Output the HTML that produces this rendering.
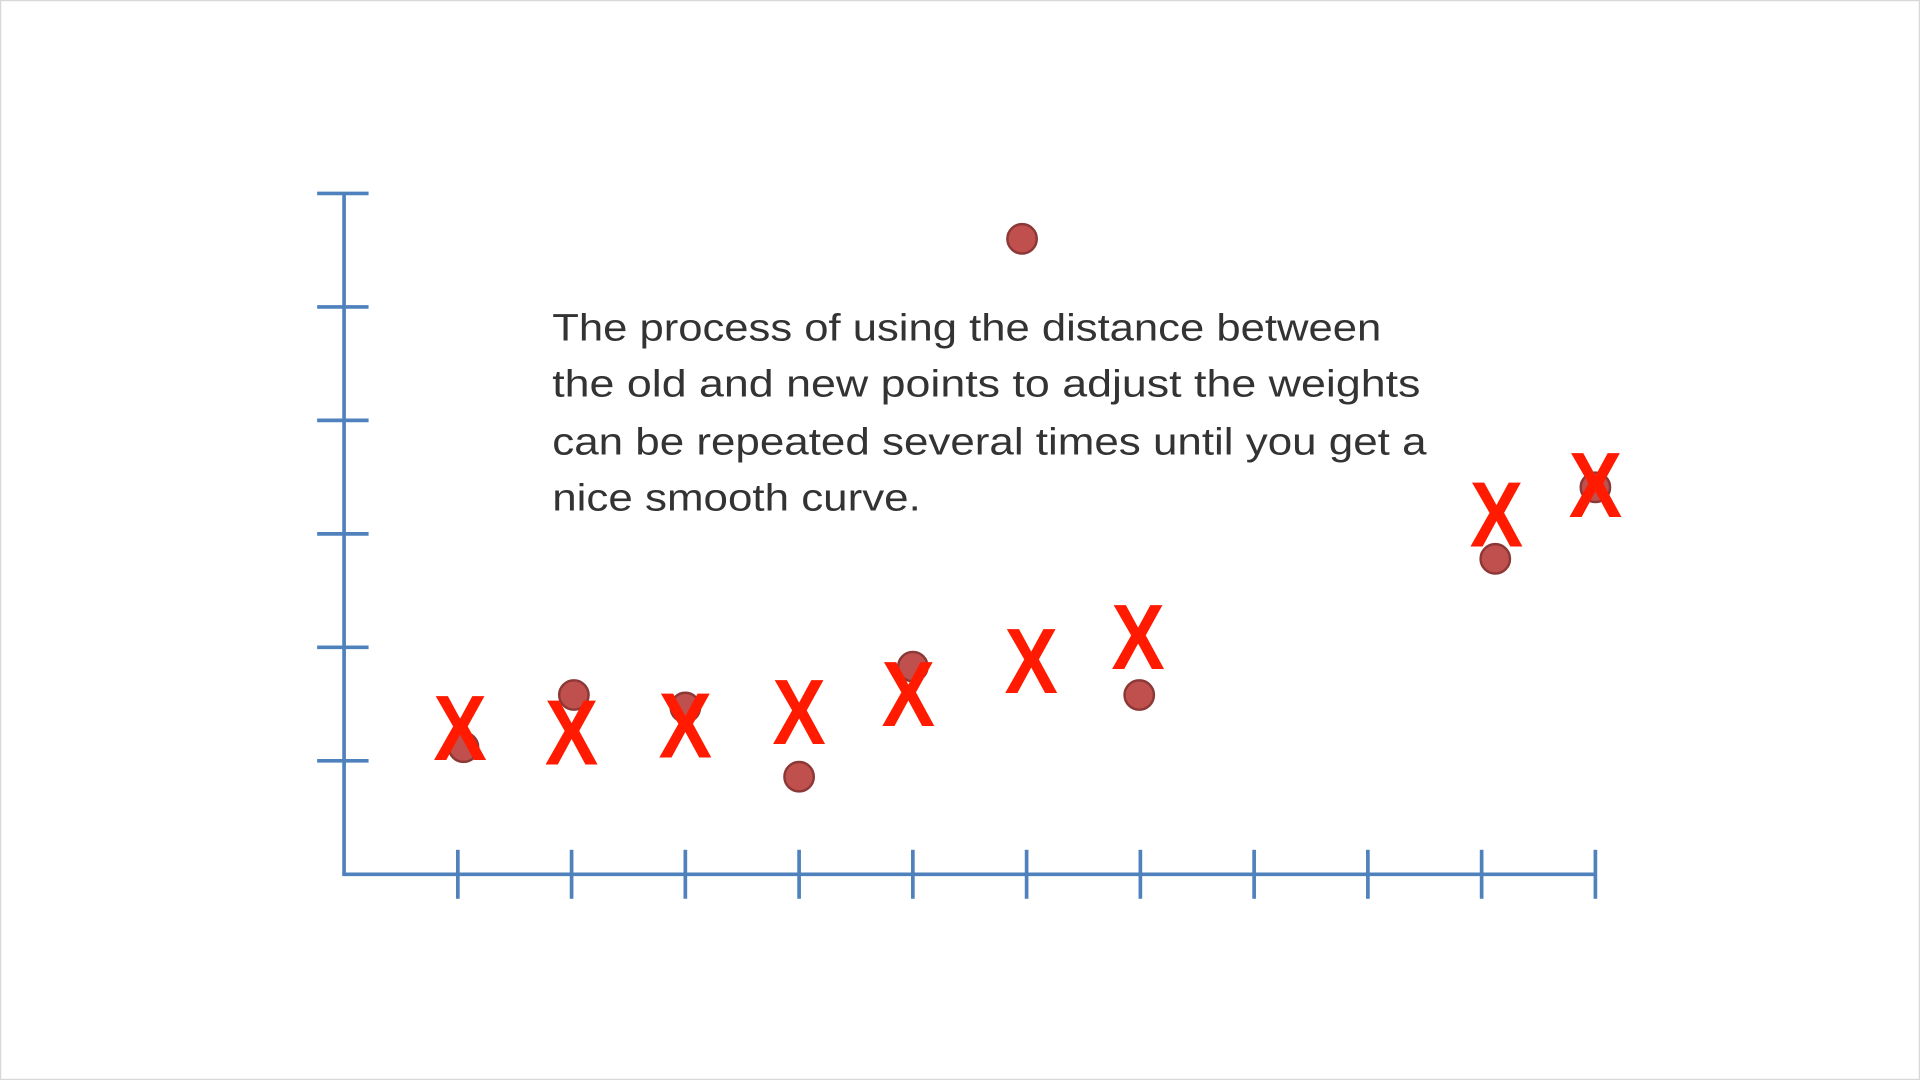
<!DOCTYPE html>
<html><head><meta charset="utf-8"><style>
html,body{margin:0;padding:0;background:#fff;}
svg{display:block;}
</style></head><body>
<svg id="chart" width="1920" height="1080" viewBox="0 0 1568 882" preserveAspectRatio="none" xmlns="http://www.w3.org/2000/svg">
<rect x="0.5" y="0.5" width="1567" height="881" fill="#fff" stroke="#d8d8d8" stroke-width="1"/>
<g id="axes"></g>
<g id="caption" font-family="'Liberation Sans', sans-serif" font-size="31" fill="#333">
<text x="451" y="278" textLength="677" lengthAdjust="spacingAndGlyphs">The process of using the distance between</text>
<text x="451" y="324" textLength="709" lengthAdjust="spacingAndGlyphs">the old and new points to adjust the weights</text>
<text x="451" y="371" textLength="714" lengthAdjust="spacingAndGlyphs">can be repeated several times until you get a</text>
<text x="451" y="417" textLength="301" lengthAdjust="spacingAndGlyphs">nice smooth curve.</text>
</g>
<g id="dots"></g>
<g id="marks"></g>
</svg>
<script>
const xTicks = [0,1,2,3,4,5,6,7,8,9,10,11];
const yTicks = [0,1,2,3,4,5,6];
const dotX = [1.05,2.02,3.0,4.0,5.0,5.96,6.99,10.12,11.0];
const dotY = [1.12,1.58,1.47,0.86,1.83,5.6,1.58,2.78,3.41];
const markX = [1.02,2.0,3.0,4.0,4.96,6.04,6.98,10.13,11.0];
const markY = [1.30,1.26,1.32,1.44,1.60,1.89,2.10,3.18,3.44];

const NS="http://www.w3.org/2000/svg";
const x0=281, y0=714, dx=92.9, dy=92.67;
function sx(v){return x0+v*dx;}
function sy(v){return y0-v*dy;}
function mk(tag,attrs,parent){const e=document.createElementNS(NS,tag);for(const k in attrs)e.setAttribute(k,attrs[k]);parent.appendChild(e);return e;}
const blue="#4f81bd";
const axes=document.getElementById('axes');
let l=mk('line',{x1:sx(0),y1:sy(6),x2:sx(0),y2:sy(0),stroke:blue,'stroke-width':3},axes);


l=mk('line',{x1:sx(0)-1.5,y1:sy(0),x2:sx(11),y2:sy(0),stroke:blue,'stroke-width':3},axes);


yTicks.forEach(t=>{if(t===0)return;
 const e=mk('line',{x1:sx(0)-22,y1:sy(t),x2:sx(0)+20,y2:sy(t),stroke:blue,'stroke-width':3},axes);
 
 
});
xTicks.forEach(t=>{if(t===0)return;
 const e=mk('line',{x1:sx(t),y1:sy(0)-20,x2:sx(t),y2:sy(0)+20,stroke:blue,'stroke-width':3},axes);
 
 
});
const dots=document.getElementById('dots');
dotX.forEach((v,i)=>{
 const c=mk('circle',{cx:sx(v),cy:sy(dotY[i]),r:12,fill:'#c0504d',stroke:'#8c3836','stroke-width':2},dots);
 
 
});
const marks=document.getElementById('marks');
markX.forEach((v,i)=>{
 const cx=sx(v), cy=sy(markY[i]);
 const t=mk('text',{x:0,y:0,'text-anchor':'middle','font-family':"'Liberation Sans', sans-serif",'font-weight':'bold','font-size':76,fill:'#ff1a00',transform:`translate(${cx},${cy+27}) scale(0.86,1)`},marks);
 t.textContent='X';
 
 
});
</script>
</body></html>
